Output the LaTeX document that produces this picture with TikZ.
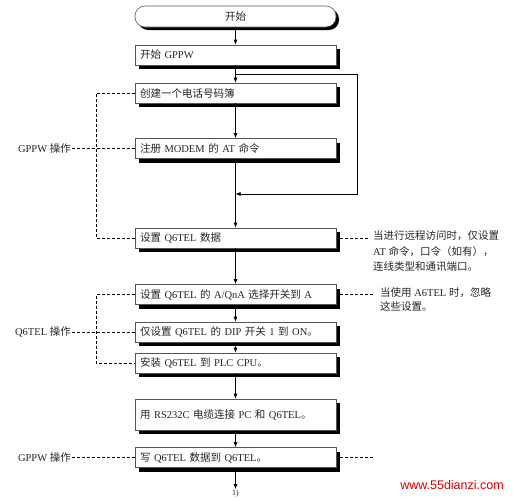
\documentclass[tikz,border=0pt]{standalone}
\usepackage{fontspec}
\setmainfont{Liberation Serif}
\setsansfont{Liberation Sans}
\newfontfamily\cjk{Noto Sans CJK SC}
\usetikzlibrary{arrows.meta,positioning,calc,shadows}
\definecolor{edge}{HTML}{555555}
\colorlet{flowline}{black}
\colorlet{wmark}{red!85!black}
\newcommand{\Zh}[1]{{\cjk #1}}

\begin{document}
\begin{tikzpicture}[x=1pt, y=1pt,
  every node/.style={font=\fontsize{10.5}{15.5}\selectfont, text=black!85},
  boxbase/.style={
    rectangle, draw=edge, line width=0.6pt, fill=white,
    minimum width=201pt, minimum height=20pt,
    text width=191pt, inner xsep=5pt, inner ysep=2pt, align=left
  },
  stepbox/.style={boxbase,
    drop shadow={shadow xshift=4pt, shadow yshift=-4pt, fill=black, opacity=1}},
  termbox/.style={boxbase, rounded corners=10pt, align=center, minimum height=21pt,
    drop shadow={shadow xshift=3pt, shadow yshift=-3pt, fill=black, opacity=1}},
  flow/.style={-{Latex[length=5pt,width=4pt]}, line width=0.7pt, draw=flowline},
  dashlink/.style={dash pattern=on 3pt off 2pt, line width=0.6pt},
  sidenote/.style={align=left, anchor=north west, inner sep=0pt},
  grouplabel/.style={anchor=east, inner sep=1pt}
]

% ---------- Frame ----------
\path[use as bounding box, fill=white] (0,0) rectangle (513,-499);

% ---------- Geometry ----------
\def\cx{235.5}
\coordinate (busL)  at (96,0);
\coordinate (split) at (\cx,-74);
\coordinate (loopR) at (357,-74);
\coordinate (merge) at (\cx,-194);

% ---------- Steps ----------
\node[termbox] (start)   at (\cx,-16.5) {\Zh{开始}};
\node[stepbox] (gppw)    at (\cx,-55)   {\Zh{开始} GPPW};
\node[stepbox] (book)    at (\cx,-93)   {\Zh{创建一个电话号码簿}};
\node[stepbox] (modem)   at (\cx,-148.5){\Zh{注册} MODEM \Zh{的} AT \Zh{命令}};
\node[stepbox] (data)    at (\cx,-238)  {\Zh{设置} Q6TEL \Zh{数据}};
\node[stepbox] (switch)  at (\cx,-294.5){\Zh{设置} Q6TEL \Zh{的} A/QnA \Zh{选择开关到} A};
\node[stepbox] (dip)     at (\cx,-332)  {\Zh{仅设置} Q6TEL \Zh{的} DIP \Zh{开关} 1 \Zh{到} ON\Zh{。}};
\node[stepbox] (install) at (\cx,-363)  {\Zh{安装} Q6TEL \Zh{到} PLC CPU\Zh{。}};
\node[stepbox, minimum height=31pt] (cable) at (\cx,-414.5)
  {\Zh{用} RS232C \Zh{电缆连接} PC \Zh{和} Q6TEL\Zh{。}};
\node[stepbox] (write)   at (\cx,-457.5){\Zh{写} Q6TEL \Zh{数据到} Q6TEL\Zh{。}};
\node[font=\fontsize{8}{9}\selectfont, inner sep=1pt] (cont) at (\cx,-494) {1)};

% ---------- Flow ----------
\draw[flow] (start) -- (gppw);
\draw[flow] (gppw) -- (book);
\draw[flow] (book) -- (modem);
\draw[flow] (modem) -- (data);
\draw[flow] (split) -- (loopR) |- (merge);
\draw[flow] (data) -- (switch);
\draw[flow] (switch) -- (dip);
\draw[flow] (dip) -- (install);
\draw[flow] (install) -- (cable);
\draw[flow] (cable) -- (write);
\draw[flow] (write) -- (cont);

% ---------- Left groups ----------
\node[grouplabel] (opA) at (72,-148.5) {GPPW \Zh{操作}};
\draw[dashlink] (book.west) -- (book.west -| busL) -- (data.west -| busL) -- (data.west);
\draw[dashlink] (opA.east) -- (modem.west);

\node[grouplabel] (opB) at (72,-332) {Q6TEL \Zh{操作}};
\draw[dashlink] (switch.west) -- (switch.west -| busL) -- (install.west -| busL) -- (install.west);
\draw[dashlink] (opB.east) -- (dip.west);

\node[grouplabel] (opC) at (72,-457.5) {GPPW \Zh{操作}};
\draw[dashlink] (opC.east) -- (write.west);

% ---------- Right notes ----------
\node[sidenote] (remote) at (373,-230.5) {%
  \Zh{当进行远程访问时，仅设置}\\
  AT \Zh{命令，口令（如有），}\\
  \Zh{连线类型和通讯端口。}};
\draw[dashlink] ($(data.east)+(4,0)$) -- ($(data.east -| remote.west)+(-3,0)$);

\node[sidenote, font=\fontsize{10.5}{14}\selectfont] (ignore) at (380,-287.5) {%
  \Zh{当使用} A6TEL \Zh{时，忽略}\\
  \Zh{这些设置。}};
\draw[dashlink] ($(switch.east)+(4,0)$) -- ($(switch.east -| ignore.west)+(-5,0)$);

\coordinate (tailR) at (375,-457.5);
\draw[dashlink] ($(write.east)+(4,0)$) -- (tailR);

% ---------- Site mark ----------
\node[font=\fontsize{12.5}{14}\sffamily, text=wmark, inner sep=0pt] (site) at (452,-485) {www.55dianzi.com};

\end{tikzpicture}
\end{document}
